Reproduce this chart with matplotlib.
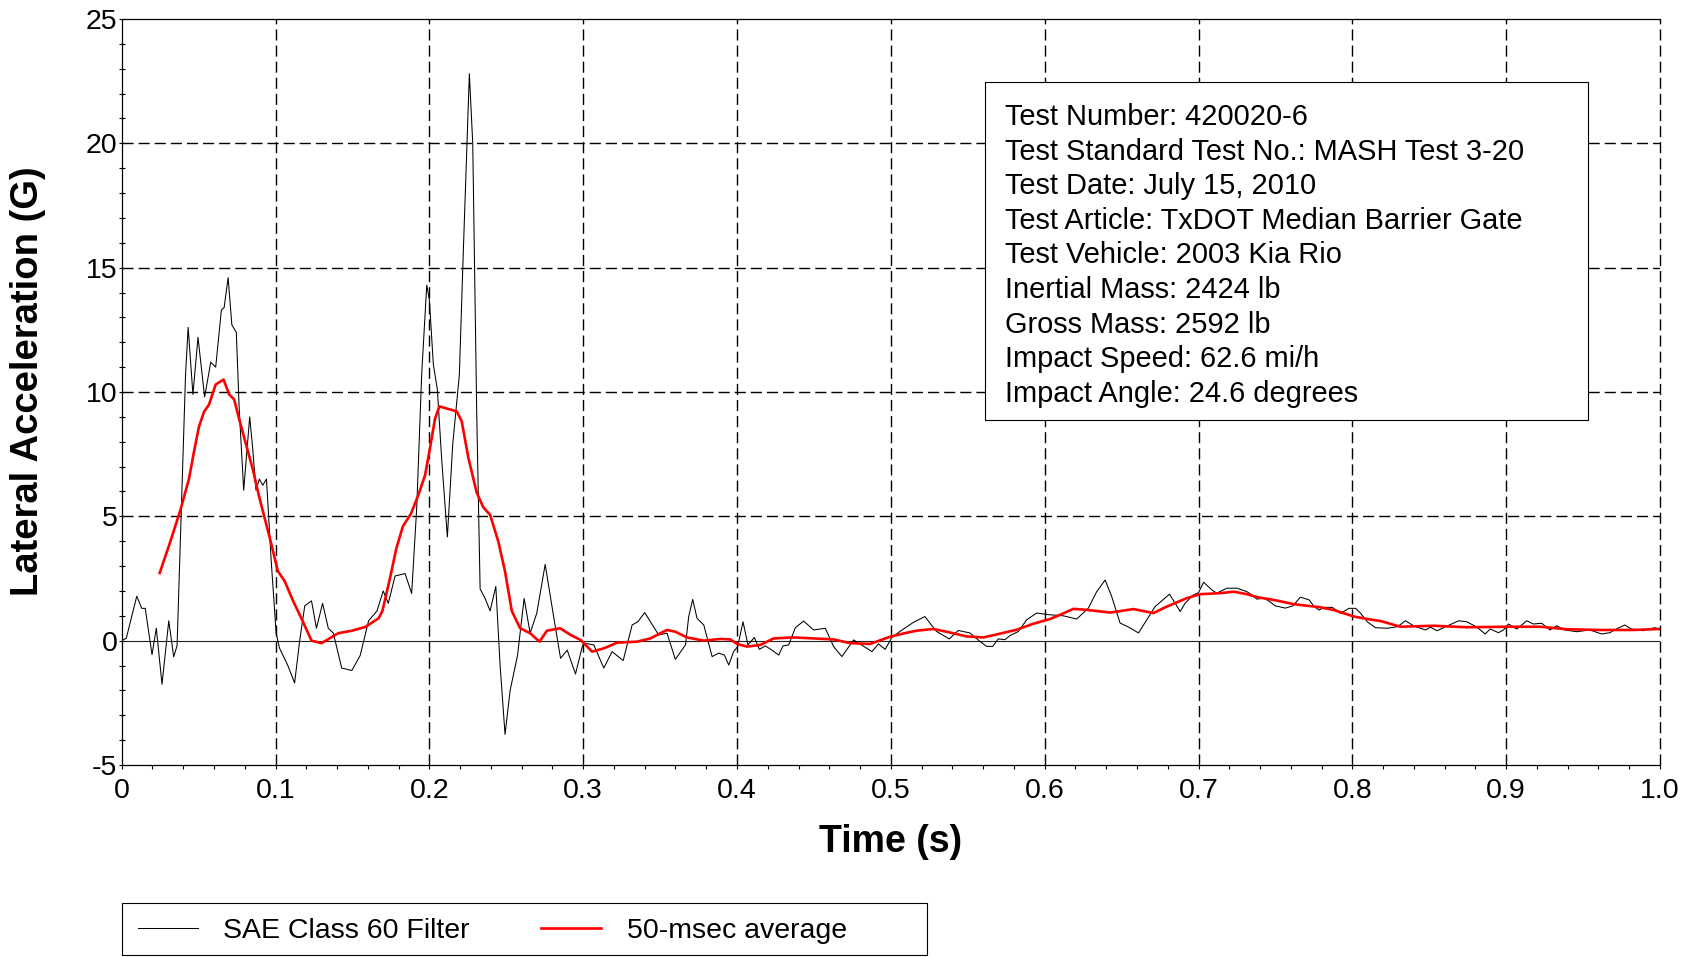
import matplotlib
matplotlib.use('Agg')
import matplotlib.pyplot as plt
from matplotlib.patches import Rectangle
from matplotlib.ticker import MultipleLocator
import numpy as np

plt.rcParams['font.family'] = ['Liberation Sans', 'DejaVu Sans']
plt.rcParams['axes.unicode_minus'] = False

# SAE Class 60 filtered lateral acceleration
t_filt = [0.000, 0.003, 0.0098, 0.013, 0.0153, 0.0197, 0.0225, 0.0262, 0.0306, 0.0338,
          0.036, 0.039, 0.0415, 0.0432, 0.0463, 0.0496, 0.0539, 0.0579, 0.0611, 0.0648,
          0.0666, 0.0692, 0.0716, 0.0745, 0.0764, 0.0793, 0.0832, 0.0852, 0.0873, 0.0895,
          0.0917, 0.0941, 0.0972, 0.1004, 0.1026, 0.108, 0.1124, 0.1157, 0.119, 0.1234,
          0.1266, 0.1306, 0.1343, 0.1376, 0.143, 0.1496, 0.155, 0.1605, 0.166, 0.170,
          0.1733, 0.1777, 0.1842, 0.1885, 0.1918, 0.195, 0.1983, 0.200, 0.2026, 0.2052,
          0.208, 0.2117, 0.2152, 0.2195, 0.2221, 0.226, 0.2282, 0.2308, 0.233, 0.2362,
          0.2395, 0.2432, 0.246, 0.2492, 0.2525, 0.2573, 0.2616, 0.2655, 0.2698, 0.2753,
          0.2807, 0.2853, 0.2896, 0.295, 0.2994, 0.3004, 0.3069, 0.3134, 0.3188, 0.326,
          0.3318, 0.3355, 0.340, 0.3437, 0.3491, 0.3545, 0.3599, 0.3665, 0.3686, 0.3712,
          0.374, 0.3784, 0.3838, 0.3881, 0.3918, 0.3946, 0.3978, 0.4004, 0.4039, 0.4071,
          0.4113, 0.4145, 0.4184, 0.4227, 0.4271, 0.4299, 0.4336, 0.4379, 0.4433, 0.4498,
          0.4574, 0.4628, 0.4682, 0.4758, 0.4877, 0.492, 0.4963, 0.5007, 0.5059, 0.5145,
          0.5221, 0.5297, 0.538, 0.5438, 0.5514, 0.5579, 0.5623, 0.5662, 0.5698, 0.5742,
          0.5774, 0.5829, 0.5883, 0.5948, 0.6035, 0.6121, 0.6208, 0.6284, 0.6338, 0.6393,
          0.6436, 0.649, 0.6544, 0.661, 0.6664, 0.6718, 0.6811, 0.6848, 0.6881, 0.6913,
          0.6967, 0.700, 0.7033, 0.7087, 0.7119, 0.7184, 0.725, 0.7315, 0.7347, 0.738,
          0.7423, 0.7456, 0.7499, 0.7564, 0.7614, 0.7662, 0.7719, 0.7752, 0.7784, 0.7816,
          0.787, 0.7924, 0.7978, 0.8022, 0.8054, 0.8097, 0.8151, 0.8227, 0.8292, 0.8346,
          0.840, 0.8475, 0.8508, 0.8551, 0.8616, 0.8691, 0.8745, 0.881, 0.8864, 0.8896,
          0.895, 0.8983, 0.9015, 0.9069, 0.9134, 0.9177, 0.9231, 0.9285, 0.9328, 0.9382,
          0.9458, 0.9544, 0.962, 0.9674, 0.9717, 0.9771, 0.9814, 0.989, 0.9965, 1.000]
g_filt = [0.0, 0.1, 1.79, 1.3, 1.3, -0.56, 0.5, -1.75, 0.8, -0.65,
          -0.2, 5.75, 10.7, 12.6, 9.9, 12.2, 9.8, 11.2, 11.0, 13.3,
          13.4, 14.6, 12.7, 12.4, 9.3, 6.05, 9.0, 7.7, 6.05, 6.5,
          6.25, 6.5, 3.2, 0.3, -0.3, -1.0, -1.7, 0.0, 1.4, 1.6,
          0.5, 1.5, 0.5, 0.3, -1.1, -1.2, -0.6, 0.8, 1.2, 2.0,
          1.5, 2.6, 2.7, 1.9, 5.36, 10.7, 14.3, 13.7, 11.1, 10.1,
          7.3, 4.17, 7.9, 10.7, 15.7, 22.8, 20.0, 9.1, 2.08, 1.7,
          1.2, 2.18, -1.0, -3.77, -2.0, -0.6, 1.7, 0.3, 1.1, 3.07,
          1.0, -0.71, -0.38, -1.34, -0.24, -0.1, -0.17, -1.1, -0.44, -0.8,
          0.63, 0.76, 1.13, 0.76, 0.23, 0.3, -0.75, -0.17, 0.97, 1.66,
          0.9, 0.63, -0.64, -0.5, -0.58, -0.98, -0.44, -0.24, 0.76, -0.17,
          0.13, -0.35, -0.21, -0.38, -0.58, -0.21, -0.17, 0.52, 0.79, 0.43,
          0.5, -0.24, -0.64, 0.03, -0.44, -0.13, -0.35, 0.13, 0.37, 0.73,
          0.97, 0.37, 0.07, 0.41, 0.31, -0.03, -0.23, -0.23, 0.07, 0.04,
          0.2, 0.37, 0.84, 1.11, 1.04, 1.0, 0.87, 1.31, 1.97, 2.44,
          1.77, 0.71, 0.55, 0.31, 0.84, 1.37, 1.87, 1.51, 1.17, 1.51,
          1.84, 1.93, 2.35, 2.04, 1.91, 2.11, 2.11, 1.97, 1.84, 1.67,
          1.71, 1.6, 1.4, 1.31, 1.4, 1.75, 1.64, 1.37, 1.23, 1.34,
          1.34, 1.1, 1.3, 1.3, 1.1, 0.76, 0.52, 0.5, 0.56, 0.8,
          0.59, 0.43, 0.54, 0.4, 0.59, 0.8, 0.76, 0.54, 0.27, 0.47,
          0.32, 0.43, 0.67, 0.47, 0.8, 0.67, 0.7, 0.43, 0.6, 0.43,
          0.36, 0.43, 0.27, 0.32, 0.47, 0.63, 0.47, 0.4, 0.52, 0.47]

# 50-msec moving average
t_avg = [0.0247, 0.0317, 0.0382, 0.0437, 0.047, 0.0502, 0.0535, 0.0568, 0.0611, 0.0662,
         0.0699, 0.0731, 0.0764, 0.0808, 0.0852, 0.0895, 0.0939, 0.0972, 0.1015, 0.1059,
         0.1114, 0.1168, 0.1234, 0.1299, 0.1408, 0.1496, 0.1583, 0.167, 0.1695, 0.174,
         0.1785, 0.1828, 0.188, 0.1928, 0.1972, 0.2004, 0.2037, 0.2065, 0.2178, 0.221,
         0.2254, 0.2308, 0.2351, 0.2395, 0.2449, 0.2492, 0.2536, 0.259, 0.2655, 0.2716,
         0.2764, 0.285, 0.2918, 0.2983, 0.3058, 0.3134, 0.3221, 0.3351, 0.3437, 0.3502,
         0.3545, 0.3599, 0.3675, 0.3784, 0.3892, 0.3957, 0.400, 0.4065, 0.4152, 0.4238,
         0.4368, 0.4498, 0.4628, 0.4736, 0.4866, 0.4996, 0.5104, 0.5167, 0.5276, 0.5384,
         0.5492, 0.5601, 0.5709, 0.5818, 0.5926, 0.6035, 0.610, 0.6187, 0.6273, 0.6425,
         0.6577, 0.6707, 0.6794, 0.6924, 0.7011, 0.7141, 0.7228, 0.7315, 0.738, 0.7488,
         0.7618, 0.7795, 0.7881, 0.7946, 0.8011, 0.8097, 0.8184, 0.8313, 0.8529, 0.8745,
         0.9004, 0.922, 0.9393, 0.9609, 0.9825, 1.000]
g_avg = [2.72, 4.0, 5.26, 6.5, 7.6, 8.6, 9.2, 9.5, 10.3, 10.5,
         9.9, 9.7, 8.9, 7.9, 6.9, 5.75, 4.7, 3.9, 2.8, 2.4,
         1.6, 0.9, 0.0, -0.1, 0.3, 0.4, 0.55, 0.9, 1.2, 2.4,
         3.7, 4.6, 5.1, 5.85, 6.65, 7.74, 8.93, 9.42, 9.22, 8.83,
         7.34, 5.95, 5.36, 5.06, 3.97, 2.78, 1.19, 0.5, 0.3, -0.04,
         0.4, 0.5, 0.23, 0.03, -0.44, -0.31, -0.08, -0.04, 0.09, 0.3,
         0.43, 0.36, 0.13, 0.0, 0.07, 0.05, -0.13, -0.24, -0.17, 0.09,
         0.13, 0.09, 0.05, -0.1, -0.13, 0.16, 0.32, 0.4, 0.47, 0.33,
         0.17, 0.13, 0.28, 0.44, 0.68, 0.87, 1.04, 1.28, 1.24, 1.13,
         1.27, 1.11, 1.37, 1.71, 1.87, 1.91, 1.97, 1.87, 1.75, 1.64,
         1.47, 1.34, 1.23, 1.1, 0.97, 0.87, 0.79, 0.56, 0.6, 0.54,
         0.56, 0.56, 0.46, 0.43, 0.43, 0.47]

x_ticks = [0.0, 0.1, 0.2, 0.3, 0.4, 0.5, 0.6, 0.7, 0.8, 0.9, 1.0]
x_labels = ['0', '0.1', '0.2', '0.3', '0.4', '0.5', '0.6', '0.7', '0.8', '0.9', '1.0']
y_ticks = [-5, 0, 5, 10, 15, 20, 25]

info_lines = ['Test Number: 420020-6',
              'Test Standard Test No.: MASH Test 3-20',
              'Test Date: July 15, 2010',
              'Test Article: TxDOT Median Barrier Gate',
              'Test Vehicle: 2003 Kia Rio',
              'Inertial Mass: 2424 lb',
              'Gross Mass: 2592 lb',
              'Impact Speed: 62.6 mi/h',
              'Impact Angle: 24.6 degrees']

W, H = 1694, 957
fig = plt.figure(figsize=(W/100, H/100), dpi=100)
ax = fig.add_axes([121.7/W, 1-765/H, (1660-121.7)/W, (765-19)/H])

# grid (dashed) except the zero line, which is solid
dash = (0, (8, 3.6))
for xv in x_ticks[1:]:
    ax.axvline(xv, color='black', lw=1.0, ls=dash, zorder=1, clip_on=False)
for yv in y_ticks[2:-1]:
    ax.axhline(yv, color='black', lw=1.0, ls=dash, zorder=1)
ax.axhline(0, color='#222222', lw=0.8, zorder=1)

l1, = ax.plot(t_filt, g_filt, color='black', lw=0.75, zorder=3)
l2, = ax.plot(t_avg, g_avg, color='#ff0000', lw=1.9, zorder=4)

ax.set_xlim(0, 1.0)
ax.set_ylim(-5, 25)
ax.set_xticks(x_ticks)
ax.set_xticklabels(x_labels)
ax.set_yticks(y_ticks)
ax.xaxis.set_minor_locator(MultipleLocator(0.02))
ax.yaxis.set_minor_locator(MultipleLocator(1))
ax.tick_params(axis='x', which='both', direction='out', length=3, width=0.8,
               labelsize=20.5, pad=6)
ax.tick_params(axis='y', which='both', direction='inout', length=4, width=0.8,
               labelsize=20.5, pad=1)
ax.spines['right'].set_visible(False)
for s in ['left', 'bottom', 'top']:
    ax.spines[s].set_linewidth(0.9)

ax.set_xlabel('Time (s)', fontsize=27, fontweight='bold')
ax.xaxis.set_label_coords(0.5, -(842-765)/746)
ax.xaxis.label.set_va('center')
ax.set_ylabel('Lateral Acceleration (G)', fontsize=27.5, fontweight='bold')
ax.yaxis.set_label_coords(-(121.7-28)/1538, 0.514)
ax.yaxis.label.set_va('center')

# info box
fig.add_artist(Rectangle((985/W, 1-420/H), (1588-985)/W, (420-81.5)/H,
                         transform=fig.transFigure, fill=True, facecolor='white',
                         edgecolor='black', lw=0.8, zorder=5))
for i, line in enumerate(info_lines):
    fig.text(1005/W, 1-(125+34.6*i)/H, line, fontsize=20.9, va='baseline', ha='left',
             zorder=6)

# legend below the plot
fig.add_artist(Rectangle((122/W, 1-955/H), (927-122)/W, (955-903)/H,
                         transform=fig.transFigure, fill=False,
                         edgecolor='black', lw=0.8))
fig.legend([l1, l2], ['SAE Class 60 Filter', '50-msec average'],
           loc='center left', bbox_to_anchor=(138/W, 1-931/H), ncol=2,
           frameon=False, fontsize=20.5, borderpad=0, borderaxespad=0,
           handlelength=2.1, handletextpad=0.9, columnspacing=2.5)

fig.savefig('out.png', dpi=100)
